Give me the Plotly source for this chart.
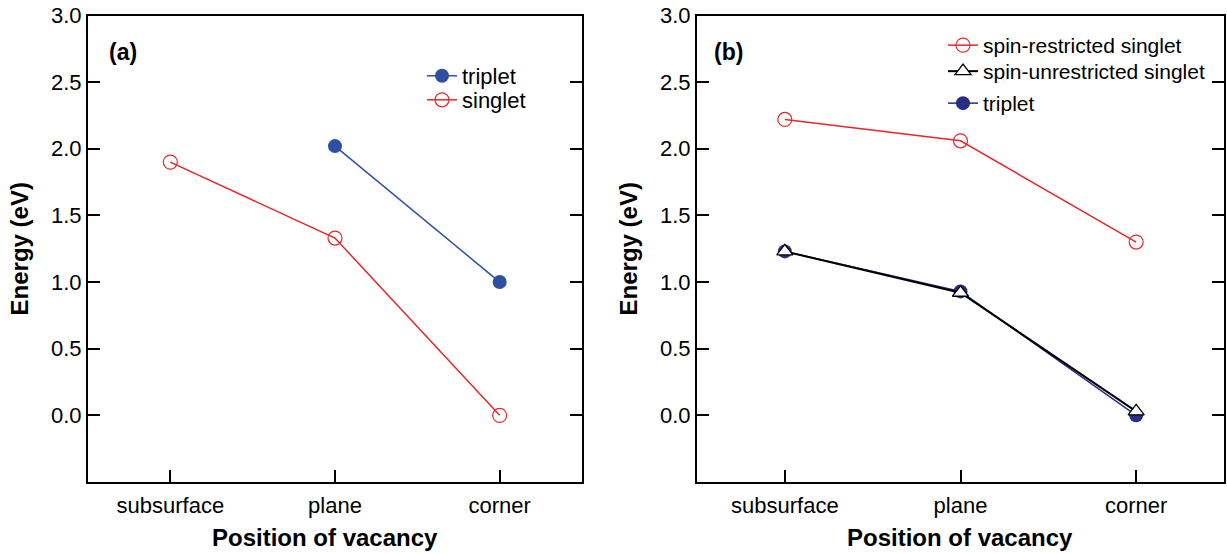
import plotly.graph_objects as go

categories = ["subsurface", "plane", "corner"]
x_idx = [0, 1, 2]

# panel (a)
a_triplet_x = [1, 2]
a_triplet = [2.02, 1.00]
a_singlet = [1.90, 1.33, 0.00]

# panel (b)
b_restricted = [2.22, 2.06, 1.30]
b_unrestricted = [1.23, 0.92, 0.03]
b_triplet = [1.23, 0.93, 0.00]

y_ticks = [0.0, 0.5, 1.0, 1.5, 2.0, 2.5, 3.0]

RED = "#e8262b"
BLUE = "#2f4fa2"
NAVY = "#2a2d86"
FONT = "Liberation Sans, Arial, sans-serif"
W, H = 1227, 554
OFF = 0  # body margin removed by post_script


def px(x):
    return (x - OFF) / W


def py(y):
    return 1 - (y - OFF) / H


fig = go.Figure()

fig.add_trace(go.Scatter(x=a_triplet_x, y=a_triplet, mode="lines+markers", name="triplet",
                         line=dict(color=BLUE, width=1.5),
                         marker=dict(symbol="circle", size=14, color=BLUE),
                         xaxis="x", yaxis="y", legend="legend"))
fig.add_trace(go.Scatter(x=x_idx, y=a_singlet, mode="lines+markers", name="singlet",
                         line=dict(color=RED, width=1.5),
                         marker=dict(symbol="circle-open", size=14, color=RED, line=dict(width=1.2)),
                         xaxis="x", yaxis="y", legend="legend2"))

fig.add_trace(go.Scatter(x=x_idx, y=b_triplet, mode="lines+markers", name="triplet",
                         line=dict(color=NAVY, width=1.5),
                         marker=dict(symbol="circle", size=14, color=NAVY),
                         xaxis="x2", yaxis="y2", legend="legend5"))
fig.add_trace(go.Scatter(x=x_idx, y=b_restricted, mode="lines+markers", name="spin-restricted singlet",
                         line=dict(color=RED, width=1.5),
                         marker=dict(symbol="circle-open", size=14, color=RED, line=dict(width=1.2)),
                         xaxis="x2", yaxis="y2", legend="legend3"))
fig.add_trace(go.Scatter(x=x_idx, y=b_unrestricted, mode="lines+markers", name="spin-unrestricted singlet",
                         line=dict(color="black", width=2),
                         marker=dict(symbol="triangle-up", size=14, color="white",
                                     line=dict(color="black", width=1.3)),
                         xaxis="x2", yaxis="y2", legend="legend4"))

common_x = dict(range=[-0.5, 2.5], tickmode="array", tickvals=x_idx, ticktext=categories,
                ticks="inside", ticklen=12, tickwidth=1.5, tickcolor="black",
                showline=True, linecolor="black", linewidth=2, mirror=True,
                showgrid=False, zeroline=False, automargin=False, ticklabelstandoff=3,
                tickfont=dict(family=FONT, size=22, color="black"))
common_y = dict(range=[-0.5, 3.0], tickmode="array", tickvals=y_ticks,
                ticktext=[f"{v:.1f}" for v in y_ticks],
                ticks="inside", ticklen=12, tickwidth=1.5, tickcolor="black",
                showline=True, linecolor="black", linewidth=2, mirror="ticks",
                showgrid=False, zeroline=False, automargin=False, ticklabeloverflow="allow",
                tickfont=dict(family=FONT, size=22, color="black"),
                title=dict(text="<b>Energy (eV)</b>", standoff=16,
                           font=dict(family=FONT, size=24, color="black")))


def leg(xp, yc, size):
    return dict(x=px(xp), y=py(yc - 20), xanchor="left", yanchor="top",
                bgcolor="rgba(0,0,0,0)", font=dict(family=FONT, size=size, color="black"),
                itemwidth=30)


fig.update_layout(
    width=W, height=H,
    margin=dict(l=0, r=0, t=0, b=0),
    paper_bgcolor="white", plot_bgcolor="white",
    xaxis=dict(domain=[px(88), px(582)], anchor="y", **common_x),
    yaxis=dict(domain=[py(482), py(15.5)], anchor="x", **common_y),
    xaxis2=dict(domain=[px(697), px(1224)], anchor="y2", **common_x),
    yaxis2=dict(domain=[py(482), py(15.5)], anchor="x2", **common_y),
    legend=leg(422, 75, 22),
    legend2=leg(422, 99, 22),
    legend3=leg(943, 45, 21),
    legend4=leg(943, 71, 21),
    legend5=leg(943, 103, 21),
    showlegend=True,
    annotations=[
        dict(text="<b>(a)</b>", x=px(107), y=py(52), xref="paper", yref="paper",
             xanchor="left", yanchor="middle", showarrow=False,
             font=dict(family=FONT, size=23, color="black")),
        dict(text="<b>(b)</b>", x=px(712), y=py(52), xref="paper", yref="paper",
             xanchor="left", yanchor="middle", showarrow=False,
             font=dict(family=FONT, size=23, color="black")),
        dict(text="<b>Position of vacancy</b>", x=px(325), y=py(537), xref="paper", yref="paper",
             xanchor="center", yanchor="middle", showarrow=False,
             font=dict(family=FONT, size=24, color="black")),
        dict(text="<b>Position of vacancy</b>", x=px(960), y=py(537), xref="paper", yref="paper",
             xanchor="center", yanchor="middle", showarrow=False,
             font=dict(family=FONT, size=24, color="black")),
    ],
)

fig.write_html("out.html", config={"displayModeBar": False},
               post_script="document.body.style.margin='0';document.body.style.overflow='hidden';")
